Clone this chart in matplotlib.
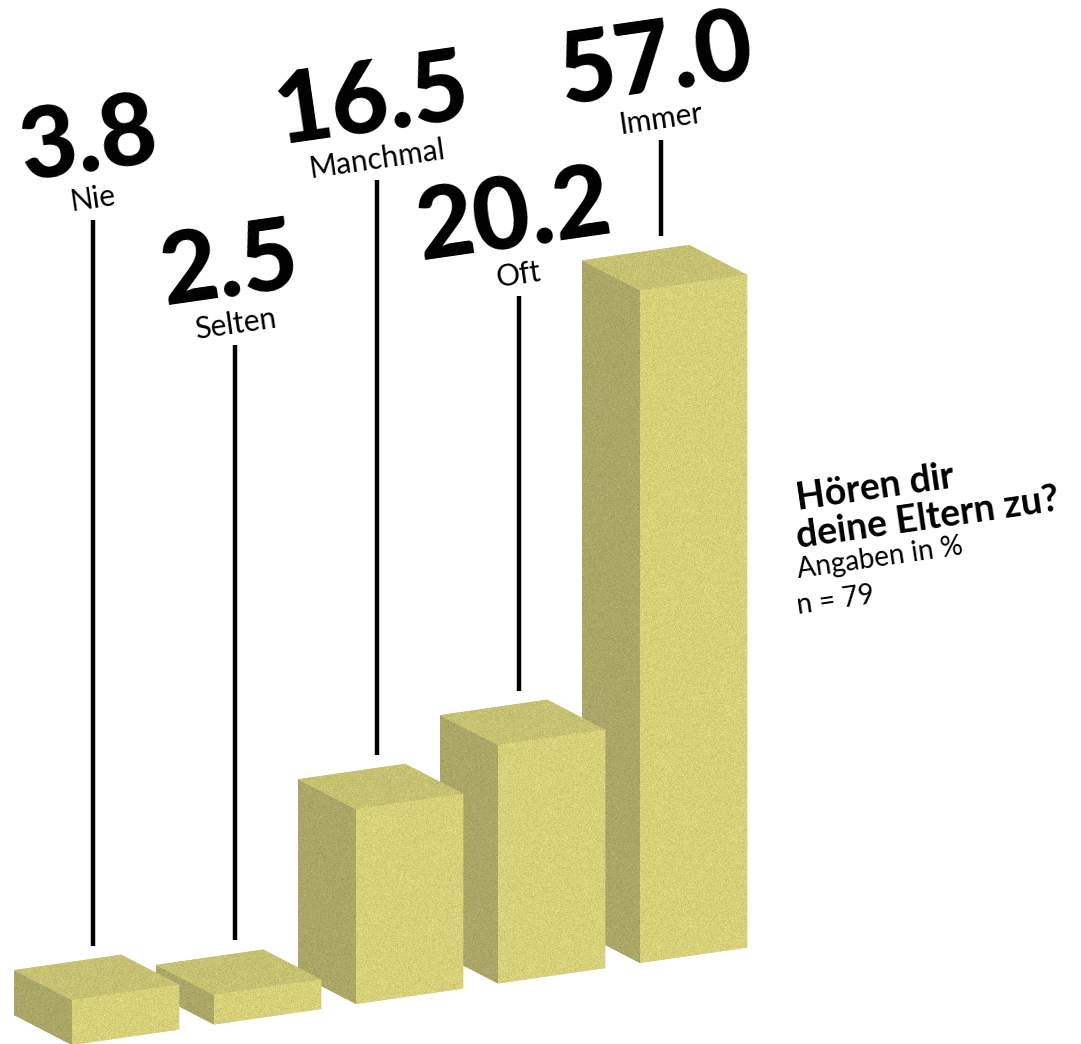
import numpy as np
import matplotlib
matplotlib.use('Agg')
import matplotlib.pyplot as plt
from matplotlib.patches import Polygon
from matplotlib.transforms import Affine2D

# answers in percent
categories = ['Nie', 'Selten', 'Manchmal', 'Oft', 'Immer']
values = [3.8, 2.5, 16.5, 20.2, 57.0]
value_labels = ['3.8', '2.5', '16.5', '20.2', '57.0']
# height (axis units) where each leader line begins under its label
label_tops = [69.9, 59.3, 73.3, 63.5, 76.7]

title_lines = ['Hören dir', 'deine Eltern zu?']
note_lines = ['Angaben in %', 'n = 79']

W, H, DPI = 1081, 1044, 100
px_u = 142.0     # pixels per category step
px_v = 11.8      # pixels per percentage point
rise = 20.5      # the floor line climbs this much per step
k = rise / px_v
angle = np.degrees(np.arctan2(rise, px_u))

bar_w = 0.755
depth_px = (-58.0, 30.0)          # front edge -> back edge on screen
du = depth_px[0] / px_u
dv = (depth_px[1] - du * rise) / px_v

c_front = np.array([215, 209, 122])
c_left = np.array([170, 167, 103])
c_top = np.array([199, 194, 114])

plt.rcParams['font.family'] = ['Lato', 'DejaVu Sans']

fig = plt.figure(figsize=(W / DPI, H / DPI), dpi=DPI)
ax = fig.add_axes([0, 0, 1, 1])
xlo, ylo = -72 / px_u, 1 / px_v
ax.set_xlim(xlo, xlo + W / px_u)
ax.set_ylim(ylo, ylo + H / px_v)
ax.axis('off')

# oblique projection: x stays, y climbs with the category position
shear = Affine2D(np.array([[1, 0, 0], [k, 1, 0], [0, 0, 1]])) + ax.transData

# grain texture for every face colour
rng = np.random.default_rng(7)
grain = rng.normal(0, 1, (H, W, 1)).astype(np.float32)
def textured(c):
    img = c[None, None, :] * (1 + 0.035 * grain)
    return np.clip(img, 0, 255).astype(np.uint8)
tex = {'front': textured(c_front), 'left': textured(c_left), 'top': textured(c_top)}
extent = (xlo, xlo + W / px_u, ylo, ylo + H / px_v)

z = 1
for i in reversed(range(len(values))):
    v = values[i]
    u0 = i
    faces = {
        'left': [(u0, 0), (u0, v), (u0 + du, v + dv), (u0 + du, dv)],
        'top': [(u0, v), (u0 + bar_w, v), (u0 + bar_w + du, v + dv), (u0 + du, v + dv)],
        'front': [(u0, 0), (u0 + bar_w, 0), (u0 + bar_w, v), (u0, v)],
    }
    cols = {'front': c_front, 'left': c_left, 'top': c_top}
    for name in ['left', 'top', 'front']:
        patch = Polygon(faces[name], closed=True, transform=shear,
                        facecolor=cols[name] / 255, edgecolor='none', zorder=z)
        ax.add_patch(patch)
        im = ax.imshow(tex[name], extent=extent, origin='lower', zorder=z + 0.5,
                       interpolation='nearest', aspect='auto')
        im.set_clip_path(patch)
        z += 1

# leader lines and labels
line_off = 0.148
gap = 2.7
for i, (cat, v, lab, top) in enumerate(zip(categories, values, value_labels, label_tops)):
    x = i + line_off
    cu = i + bar_w / 2 + du / 2
    y_bot = v + dv / 2 + k * cu + gap
    ax.plot([x, x], [y_bot, top], color='black', lw=3.2, solid_capstyle='butt', zorder=50)
    ax.text(x, top + 21 / px_v, cat, fontsize=21.5, ha='center', va='center',
            rotation=angle, rotation_mode='anchor', zorder=50)
    ax.text(x - 5 / px_u, top + 78 / px_v, lab, fontsize=71, fontweight='black',
            ha='center', va='center', rotation=angle, rotation_mode='anchor', zorder=50)

# question and sample size
ys = [510, 548, 578, 614]
for txt, yy in zip(title_lines, ys[:2]):
    fig.text(798 / W, 1 - yy / H, txt, fontsize=27, fontweight='bold', ha='left',
             va='baseline', rotation=angle, rotation_mode='anchor')
for txt, yy in zip(note_lines, ys[2:]):
    fig.text(798 / W, 1 - yy / H, txt, fontsize=20, ha='left',
             va='baseline', rotation=angle, rotation_mode='anchor')

plt.savefig('out.png', dpi=DPI)
